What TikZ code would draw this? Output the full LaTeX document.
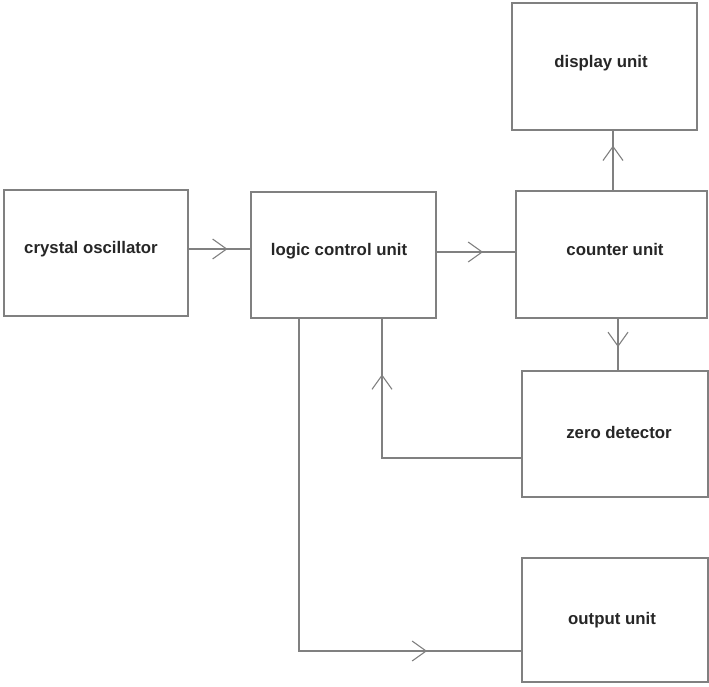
\documentclass[tikz,border=0pt]{standalone}
\usepackage{fontspec}
\setmainfont{Liberation Sans}
\usetikzlibrary{arrows.meta,decorations.markings}
\tikzset{
  blk/.style={draw=linecol,line width=1.3pt,minimum width=#1,inner sep=0pt},
  lbl/.style={inner sep=0pt,font=\fontsize{16.8}{19}\selectfont\bfseries,text=black!85},
  wire/.style={draw=linecol,line width=1.2pt},
  midarr/.style={postaction={decorate,decoration={markings,mark=at position #1 with {\arrow[linecol,line width=1.1pt]{Straight Barb[length=14pt,width=20pt]}}}}}
}
\definecolor{linecol}{gray}{0.5}
\begin{document}
\begin{tikzpicture}[x=1pt,y=-1pt]
\useasboundingbox (0,0) rectangle (709,686);
\node[blk=184pt,minimum height=126pt] (osc) at (96,253) {};
\node[blk=185pt,minimum height=126pt] (logic) at (343.5,255) {};
\node[blk=191pt,minimum height=127pt] (counter) at (611.5,254.5) {};
\node[blk=185pt,minimum height=127pt] (display) at (604.5,66.5) {};
\node[blk=186pt,minimum height=126pt] (zero) at (615,434) {};
\node[blk=186pt,minimum height=124pt] (output) at (615,620) {};
\node[lbl] (tosc) at (91,249) {crystal oscillator};
\node[lbl] (tlogic) at (339,251) {logic control unit};
\node[lbl] (tcounter) at (615,249) {counter unit};
\node[lbl] (tdisplay) at (601,63) {display unit};
\node[lbl] (tzero) at (619,432) {zero detector};
\node[lbl] (toutput) at (612,620) {output unit};
\coordinate (ya) at (0,249);
\coordinate (yb) at (0,252);
\coordinate (xc) at (613,0);
\coordinate (xd) at (618,0);
\coordinate (ze) at (382,458);
\coordinate (lo) at (299,651);
\draw[wire,midarr=0.63] (osc.east |- ya) -- (logic.west |- ya);
\draw[wire,midarr=0.59] (logic.east |- yb) -- (counter.west |- yb);
\draw[wire,midarr=0.75] (counter.north -| xc) -- (display.south -| xc);
\draw[wire,midarr=0.55] (counter.south -| xd) -- (zero.north -| xd);
\draw[wire,midarr=0.80] (zero.west |- ze) -- (ze) -- (logic.south -| ze);
\draw[wire,midarr=0.83] (logic.south -| lo) -- (lo) -- (output.west |- lo);
\end{tikzpicture}
\end{document}
